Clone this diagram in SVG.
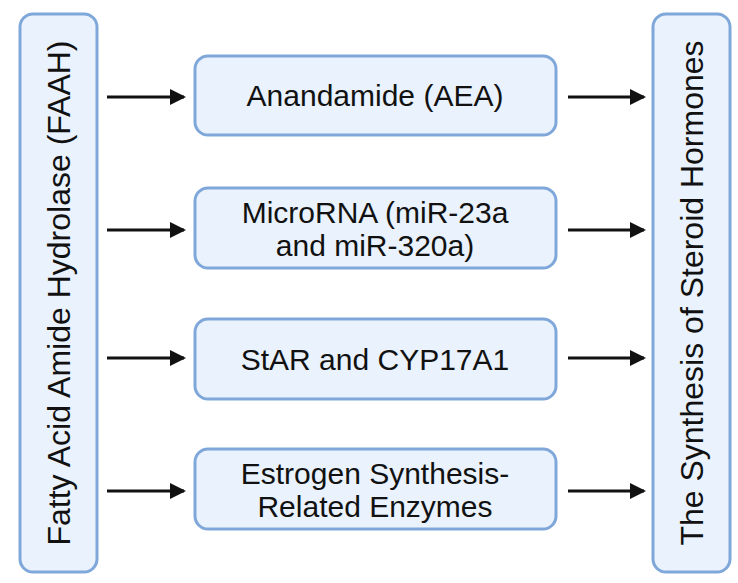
<svg xmlns="http://www.w3.org/2000/svg" width="738" height="583" viewBox="0 0 738 583">
<style>
.b{fill:#e9f2fd;stroke:#7fa7d9;stroke-width:3}
.t{font-family:"Liberation Sans",Arial,sans-serif;font-size:30px;fill:#111;text-anchor:middle}
.s{font-size:32px}
.c line{stroke:#111;stroke-width:3;marker-end:url(#a)}
</style>
<defs><marker id="a" markerWidth="16" markerHeight="16" refX="14" refY="8" orient="auto" markerUnits="userSpaceOnUse" viewBox="0 0 16 16"><path d="M0,0L16,8L0,16z" fill="#111"/></marker></defs>
<rect width="738" height="583" fill="#fff"/>
<g id="faah"><rect class="b" x="20" y="14" width="77" height="558" rx="13"/><text class="t s" transform="translate(70,293) rotate(-90)">Fatty Acid Amide Hydrolase (FAAH)</text></g>
<g id="steroid"><rect class="b" x="653" y="14" width="77" height="558" rx="13"/><text class="t s" transform="translate(703,293) rotate(-90)">The Synthesis of Steroid Hormones</text></g>
<g id="aea"><rect class="b" x="195" y="56" width="361" height="79" rx="13"/><text class="t" x="375" y="106">Anandamide (AEA)</text></g>
<g id="mirna"><rect class="b" x="195" y="188" width="361" height="80" rx="13"/><text class="t" x="375" y="223">MicroRNA (miR-23a</text><text class="t" x="375" y="256">and miR-320a)</text></g>
<g id="star"><rect class="b" x="195" y="319" width="361" height="80" rx="13"/><text class="t" x="375" y="370">StAR and CYP17A1</text></g>
<g id="estrogen"><rect class="b" x="195" y="449" width="361" height="80" rx="13"/><text class="t" x="375" y="484">Estrogen Synthesis-</text><text class="t" x="375" y="517">Related Enzymes</text></g>
<g class="c">
<line x1="107" y1="97" x2="184" y2="97"/><line x1="107" y1="230" x2="184" y2="230"/><line x1="107" y1="358" x2="184" y2="358"/><line x1="107" y1="491" x2="184" y2="491"/>
<line x1="568" y1="97" x2="644" y2="97"/><line x1="568" y1="230" x2="644" y2="230"/><line x1="568" y1="358" x2="644" y2="358"/><line x1="568" y1="491" x2="644" y2="491"/>
</g>
</svg>
